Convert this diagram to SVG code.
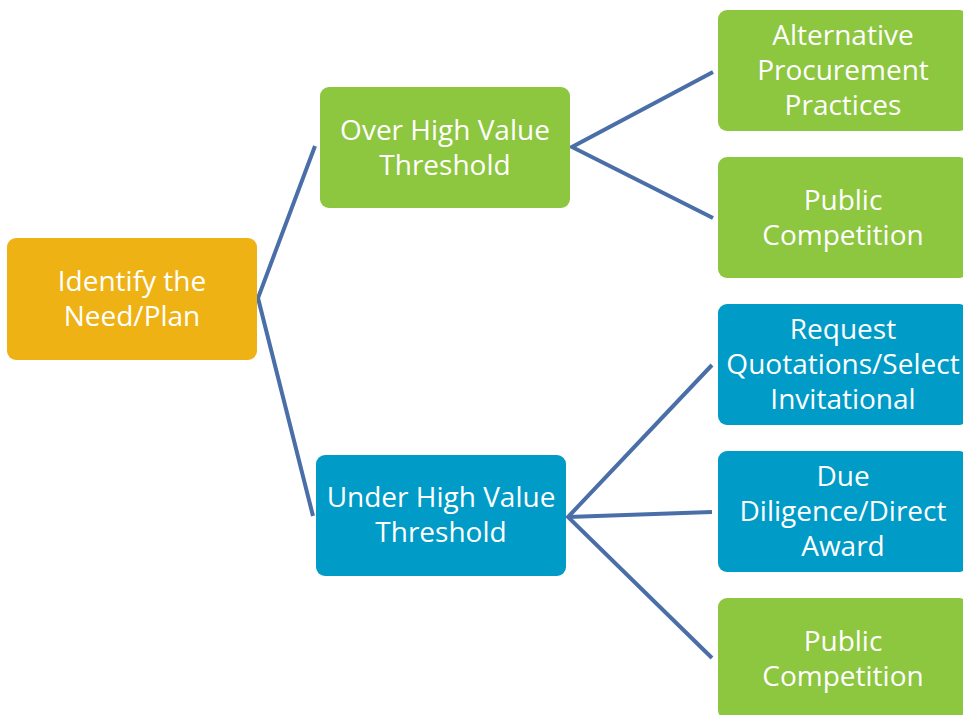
<svg xmlns="http://www.w3.org/2000/svg" width="963" height="715" viewBox="0 0 963 715">
  <style>
    .box { stroke: none; }
    .orange { fill: #EFB215; }
    .green { fill: #8DC63F; }
    .blue { fill: #009BC7; }
    .label { font-family: "Open Sans", "Liberation Sans", sans-serif; font-size: 28px; fill: #FFFFFF; text-anchor: middle; }
    .link { fill: none; stroke: #4A6FA8; stroke-width: 4; stroke-linecap: butt; stroke-linejoin: miter; }
  </style>
  <rect width="963" height="715" fill="#FFFFFF"/>

  <!-- connectors -->
  <g id="connectors">
    <polyline class="link" points="315,146 258,298 313,516"/>
    <polyline class="link" points="713,72 572,147 713,218"/>
    <polyline class="link" points="712,365 568,517 712,658"/>
    <line class="link" x1="568" y1="517" x2="712" y2="512"/>
  </g>

  <!-- root -->
  <g id="identify-need">
    <rect class="box orange" x="7" y="238" width="250" height="122" rx="9"/>
    <text class="label" x="132" y="291">Identify the</text>
    <text class="label" x="132" y="326">Need/Plan</text>
  </g>

  <!-- branches -->
  <g id="over-threshold">
    <rect class="box green" x="320" y="87" width="250" height="121" rx="9"/>
    <text class="label" x="445" y="140">Over High Value</text>
    <text class="label" x="445" y="175">Threshold</text>
  </g>

  <g id="under-threshold">
    <rect class="box blue" x="316" y="455" width="250" height="121" rx="9"/>
    <text class="label" x="441" y="507">Under High Value</text>
    <text class="label" x="441" y="542">Threshold</text>
  </g>

  <!-- leaves -->
  <g id="alternative-procurement">
    <rect class="box green" x="718" y="10" width="250" height="121" rx="9"/>
    <text class="label" x="843" y="45">Alternative</text>
    <text class="label" x="843" y="80">Procurement</text>
    <text class="label" x="843" y="115">Practices</text>
  </g>

  <g id="public-competition-over">
    <rect class="box green" x="718" y="157" width="250" height="121" rx="9"/>
    <text class="label" x="843" y="210">Public</text>
    <text class="label" x="843" y="245">Competition</text>
  </g>

  <g id="request-quotations">
    <rect class="box blue" x="718" y="304" width="250" height="121" rx="9"/>
    <text class="label" x="843" y="339">Request</text>
    <text class="label" x="843" y="374">Quotations/Select</text>
    <text class="label" x="843" y="409">Invitational</text>
  </g>

  <g id="due-diligence">
    <rect class="box blue" x="718" y="451" width="250" height="121" rx="9"/>
    <text class="label" x="843" y="486">Due</text>
    <text class="label" x="843" y="521">Diligence/Direct</text>
    <text class="label" x="843" y="556">Award</text>
  </g>

  <g id="public-competition-under">
    <rect class="box green" x="718" y="598" width="250" height="121" rx="9"/>
    <text class="label" x="843" y="651">Public</text>
    <text class="label" x="843" y="686">Competition</text>
  </g>
</svg>
